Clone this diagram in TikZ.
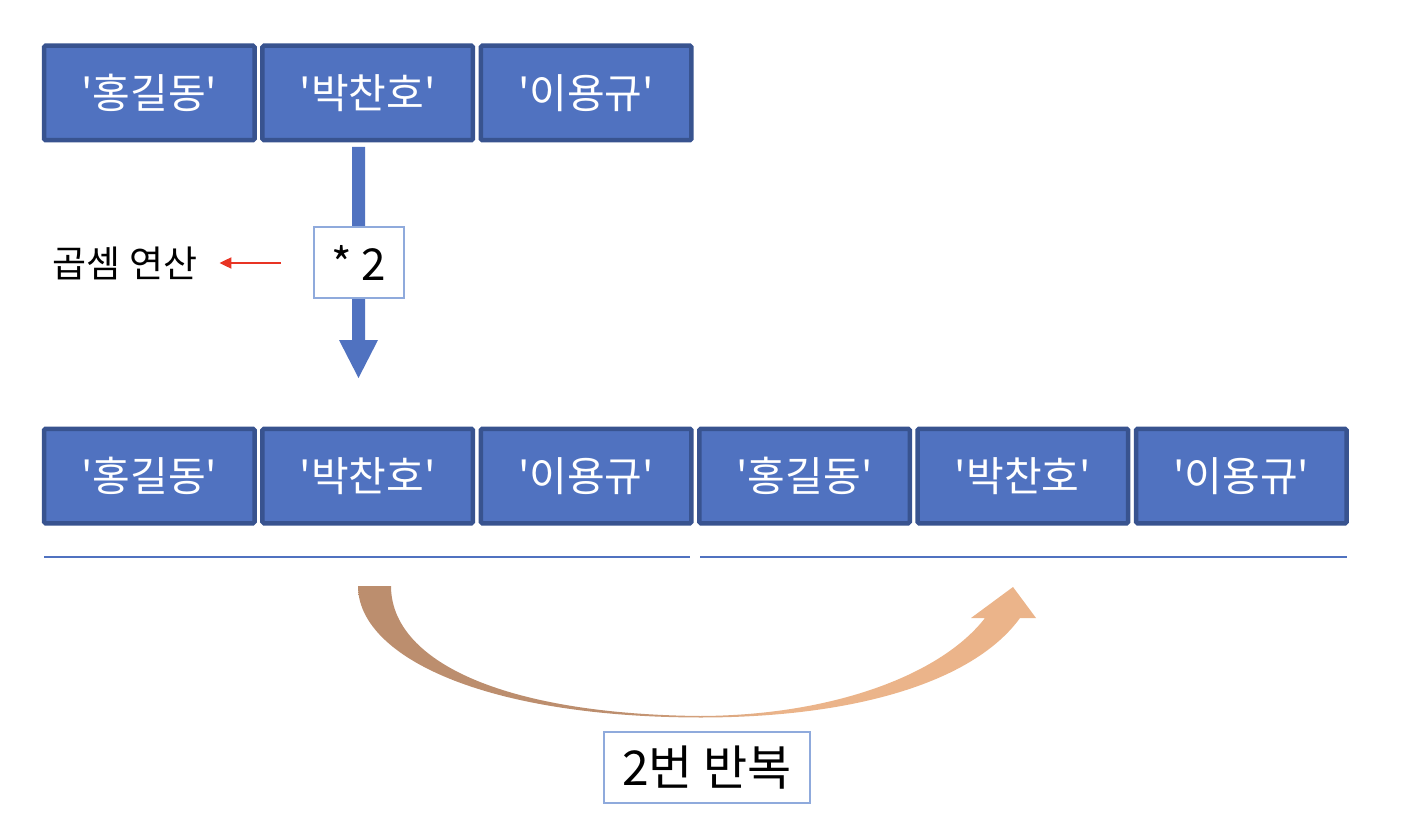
\documentclass[tikz,border=0pt]{standalone}
\usepackage{fontspec}
\setmainfont{Noto Sans CJK KR}[Ligatures=TeXOff]
\usetikzlibrary{arrows.meta,calc}
\definecolor{boxfill}{RGB}{80,114,192}
\definecolor{boxline}{RGB}{56,83,143}
\definecolor{lightline}{RGB}{143,170,220}
\definecolor{redarrow}{RGB}{232,52,36}
\definecolor{brn}{RGB}{188,142,110}
\definecolor{pch}{RGB}{235,180,138}
\pgfdeclarehorizontalshading{arcshade}{100bp}{color(0bp)=(brn); color(44bp)=(brn); color(56bp)=(pch); color(100bp)=(pch)}
\begin{document}
\begin{tikzpicture}[x=1pt,y=-1pt,
  namebox/.style={draw=boxline, line width=4.5pt, fill=boxfill, rounded corners=1.5pt,
    minimum width=210.5pt, minimum height=94.5pt, inner sep=0pt, text=white,
    font=\fontsize{41}{43}\selectfont},
  labelbox/.style={draw=lightline, line width=1.2pt, fill=white, inner sep=0pt, text=black},
  guide/.style={draw=boxfill, line width=1.5pt},
]
\useasboundingbox (0,0) rectangle (1424,818);

% top row
\node[namebox] (t1) at (149.3,93) {'홍길동'};
\node[namebox] (t2) at (367.7,93) {'박찬호'};
\node[namebox] (t3) at (586.1,93) {'이용규'};

% blue down arrow
\fill[boxfill] (352,147) -- (365,147) -- (365,340) -- (378,340) -- (358.5,378) -- (339,340) -- (352,340) -- cycle;

% * 2 box
\node[labelbox, minimum width=90pt, minimum height=71pt, font=\fontsize{44}{46}\selectfont] (mul) at (359,262.5) {* 2};

% label and red arrow
\node[inner sep=0pt, font=\fontsize{37}{39}\selectfont] (lbl) at (125,263) {곱셈 연산};
\coordinate (rs) at (281,263);
\draw[redarrow, line width=2pt, -{Triangle[length=12pt,width=11pt]}, shorten >=22pt] (rs) -- (lbl.east);

% bottom row
\node[namebox] (b1) at (149.3,476) {'홍길동'};
\node[namebox] (b2) at (367.7,476) {'박찬호'};
\node[namebox] (b3) at (586.1,476) {'이용규'};
\node[namebox] (b4) at (804.5,476) {'홍길동'};
\node[namebox] (b5) at (1022.9,476) {'박찬호'};
\node[namebox] (b6) at (1241.3,476) {'이용규'};

% guide lines
\draw[guide] (44,557) -- (690,557);
\draw[guide] (700,557) -- (1347,557);

% curved gradient arrow
\shade[shading=arcshade]
  (358,586) .. controls (358,655) and (480,717) .. (700,717.5)
  .. controls (860,717.5) and (975,680) .. (1020,618)
  -- (1036,618) -- (1013,587) -- (971,618) -- (985,618)
  .. controls (940,676) and (830,715.5) .. (700,716)
  .. controls (500,714) and (391,660) .. (391,586) -- cycle;

% repeat label
\node[labelbox, minimum width=206pt, minimum height=71pt, font=\fontsize{48}{50}\selectfont] (rep) at (707,767.5) {2번 반복};
\end{tikzpicture}
\end{document}
